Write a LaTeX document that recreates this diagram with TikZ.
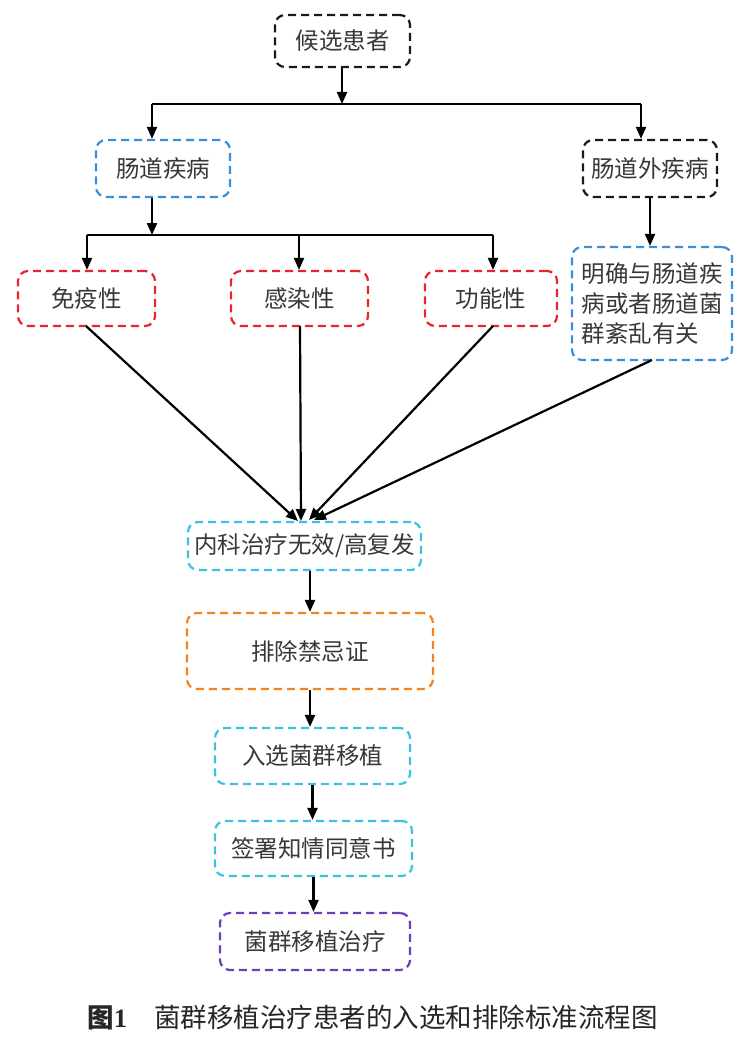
\documentclass[tikz,border=0pt]{standalone}
\usepackage{fontspec}
\setmainfont{Noto Sans CJK SC}
\newfontfamily\capserif{Liberation Serif}
\usetikzlibrary{arrows.meta}
\definecolor{cblack}{HTML}{1A1A1A}
\definecolor{cblue}{HTML}{3A8EDB}
\definecolor{cred}{HTML}{E8252C}
\definecolor{ccyan}{HTML}{3CC2E0}
\definecolor{corange}{HTML}{F5821F}
\definecolor{cpurple}{HTML}{6E3DB8}
\tikzset{
  fbox/.style={draw=#1, line width=2.2pt, dash pattern=on 8pt off 5pt, rounded corners=10pt,
    font=\fontsize{23.5}{30}\selectfont, text=black!78, inner sep=4pt},
  arr/.style={-{Triangle[length=12pt,width=10pt]}, line width=2.2pt, black},
  ln/.style={line width=2.2pt, black},
}
\begin{document}
\begin{tikzpicture}[x=1pt,y=-1pt]
\useasboundingbox (0,0) rectangle (750,1046);
\node[fbox=cblack, minimum width=135pt, minimum height=52pt] (c0) at (342.5,41) {候选患者};
\node[fbox=cblue, minimum width=134pt, minimum height=57pt] (a1) at (163,168.5) {肠道疾病};
\node[fbox=cblack, minimum width=134pt, minimum height=57pt] (a2) at (650,168.5) {肠道外疾病};
\node[fbox=cred, minimum width=137pt, minimum height=55pt] (b1) at (86.5,298.5) {免疫性};
\node[fbox=cred, minimum width=137pt, minimum height=55pt] (b2) at (299.5,298.5) {感染性};
\node[fbox=cred, minimum width=132pt, minimum height=55pt] (b3) at (491,298.5) {功能性};
\node[fbox=cblue, minimum width=160pt, minimum height=113pt, align=left, inner sep=1pt] (b4) at (652,303.5) {明确与肠道疾\\病或者肠道菌\\群紊乱有关};
\node[fbox=ccyan, minimum width=233pt, minimum height=48pt, inner sep=1pt] (d1) at (304.5,546) {内科治疗无效/高复发};
\node[fbox=corange, minimum width=246pt, minimum height=76pt] (d2) at (310,651) {排除禁忌证};
\node[fbox=ccyan, minimum width=195pt, minimum height=56pt] (d3) at (312.5,756) {入选菌群移植};
\node[fbox=ccyan, minimum width=197pt, minimum height=55pt] (d4) at (313.5,848.5) {签署知情同意书};
\node[fbox=cpurple, minimum width=190pt, minimum height=57pt] (d5) at (315,941.5) {菌群移植治疗};
\node[font=\fontsize{26.5}{30}\selectfont, text=black!85] (cap) at (372.5,1018) {{\bfseries 图\capserif 1}\hspace{27pt}菌群移植治疗患者的入选和排除标准流程图};
% junctions
\coordinate (j0) at (342,104);
\coordinate (h0l) at (152,104);
\coordinate (h0r) at (641,104);
\coordinate (j1) at (152,235);
\coordinate (h1l) at (87,235);
\coordinate (h1m) at (299,235);
\coordinate (h1r) at (493,235);
\coordinate (t1) at (298,521);
\coordinate (t2) at (301,521);
\coordinate (t3) at (309,520);
\coordinate (t4) at (314,520);
\coordinate (s1) at (86,326);
\coordinate (s2) at (300,326);
\coordinate (s3) at (493,326);
\coordinate (s4) at (652,360);
% connectors
\draw[arr] (c0.south -| j0) -- (j0);
\draw[ln] (h0l) -- (h0r);
\draw[arr] (h0l) -- (h0l |- a1.north);
\draw[arr] (h0r) -- (h0r |- a2.north);
\draw[arr] (a1.south -| j1) -- (j1);
\draw[ln] (h1l) -- (h1r);
\draw[arr] (h1l) -- (h1l |- b1.north);
\draw[arr] (h1m) -- (h1m |- b2.north);
\draw[arr] (h1r) -- (h1r |- b3.north);
\draw[arr] (a2.south) -- (a2.south |- b4.north);
\draw[arr] (s1) -- (t1);
\draw[arr] (s2) -- (t2);
\draw[arr] (s3) -- (t3);
\draw[arr] (s4) -- (t4);
\draw[arr] (d1.south -| d2.north) -- (d2.north);
\draw[arr] (d2.south) -- (d2.south |- d3.north);
\draw[arr] (d3.south) -- (d3.south |- d4.north);
\draw[arr] (d4.south) -- (d4.south |- d5.north);
\end{tikzpicture}
\end{document}
